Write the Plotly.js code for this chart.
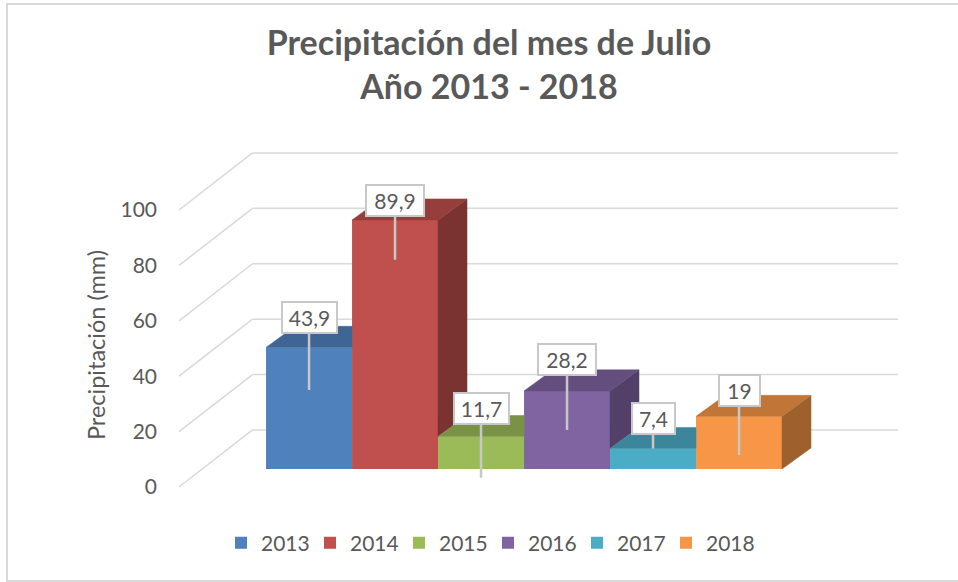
<!DOCTYPE html>
<html>
<head>
<meta charset="utf-8">
<script src="https://cdn.plot.ly/plotly-3.0.1.min.js"></script>
<style>
  html, body { margin: 0; padding: 0; background: #ffffff; }
  #wrap { position: relative; width: 958px; height: 582px; overflow: hidden; }
  #chart { width: 958px; height: 582px; }
  #frame { position: absolute; left: 6px; top: 3px; width: 960px; height: 579px;
           box-sizing: border-box; border: 2px solid #d9d9d9; pointer-events: none; }
</style>
</head>
<body>
<div id="wrap"><div id="chart"></div><div id="frame"></div></div>
<script>
// ---- data ----
const years = ['2013', '2014', '2015', '2016', '2017', '2018'];
const precip = [43.9, 89.9, 11.7, 28.2, 7.4, 19];
const tickValues = [0, 20, 40, 60, 80, 100];
const tickLabels = ['0', '20', '40', '60', '80', '100'];

// ---- style ----
const colors = ['#4F81BD', '#C0504D', '#9BBB59', '#8064A2', '#4BACC6', '#F79646'];
const TEXT = '#595959';
const GRID = '#d9d9d9';
const FONT = 'Lato, "Open Sans", sans-serif';
const DX = 0.337;   // bar depth offset (x units)
const DY = 7.6;     // bar depth offset (y units)
const FRONT_OFF = -6.5, BACK_OFF = 14.1;   // gridline front/back offsets
const GX_FRONT = -1.512, GX_BACK = -0.657, GX_END = 6.849;
const boxOffset = [10.8, 7.2, 10, 11.2, 11, 9.5];
const tipOffset = [-15.4, -14.4, -14.9, -14.1, 0, -13.9];
const boxWidth = [49, 52, 49, 52, 37, 35];

function shade(hex, f) {
  const n = parseInt(hex.slice(1), 16);
  const r = Math.round(((n >> 16) & 255) * f), g = Math.round(((n >> 8) & 255) * f), b = Math.round((n & 255) * f);
  return 'rgb(' + r + ',' + g + ',' + b + ')';
}

const traces = [];
years.forEach((yr, i) => {
  traces.push({
    type: 'bar', name: yr, x: [i], y: [precip[i]], width: 1,
    marker: { color: colors[i], line: { width: 0 } },
    hoverinfo: 'skip'
  });
});

years.forEach((yr, i) => {
  const h = precip[i];
  const L = i - 0.5, R = i + 0.5;
  const next = i < precip.length - 1 ? precip[i + 1] : null;
  // side face (visible part only)
  if (next === null || next < h) {
    const b = next === null ? 0 : next;
    traces.push({
      type: 'scatter', mode: 'lines', fill: 'toself', showlegend: false, hoverinfo: 'skip',
      x: [R, R, R + DX, R + DX, R], y: [b, h, h + DY, b + DY, b],
      fillcolor: shade(colors[i], 0.64), line: { color: shade(colors[i], 0.64), width: 0.5 }
    });
  }
  // top face
  let tx, ty;
  if (next !== null && next > h) {
    tx = [L, R, R, L + DX, L]; ty = [h, h, h + DY, h + DY, h];
  } else {
    tx = [L, R, R + DX, L + DX, L]; ty = [h, h, h + DY, h + DY, h];
  }
  traces.push({
    type: 'scatter', mode: 'lines', fill: 'toself', showlegend: false, hoverinfo: 'skip',
    x: tx, y: ty,
    fillcolor: shade(colors[i], 0.78), line: { color: shade(colors[i], 0.78), width: 0.5 }
  });
});

const shapes = [];
tickValues.forEach(v => {
  shapes.push({ type: 'line', layer: 'below', xref: 'x', yref: 'y',
    x0: GX_FRONT, y0: v + FRONT_OFF, x1: GX_BACK, y1: v + BACK_OFF,
    line: { color: GRID, width: 1.5 } });
  shapes.push({ type: 'line', layer: 'below', xref: 'x', yref: 'y',
    x0: GX_BACK, y0: v + BACK_OFF, x1: GX_END, y1: v + BACK_OFF,
    line: { color: GRID, width: 1.5 } });
});

const annotations = precip.map((v, i) => ({
  x: i, y: v + tipOffset[i], xref: 'x', yref: 'y',
  ax: i, ay: v + boxOffset[i], axref: 'x', ayref: 'y',
  text: String(v).replace('.', ','),
  showarrow: true, arrowhead: 0, arrowwidth: 2.5, arrowcolor: '#c8c8c8',
  bgcolor: '#ffffff', bordercolor: '#c8c8c8', borderwidth: 2, borderpad: 2,
  width: boxWidth[i], height: 25, valign: 'middle',
  font: { family: FONT, size: 21, color: TEXT }
}));

const layout = {
  width: 958, height: 582,
  paper_bgcolor: '#ffffff', plot_bgcolor: '#ffffff',
  margin: { l: 168, r: 53, t: 140, b: 32 },
  barmode: 'overlay',
  showlegend: true,
  title: {
    text: '<b>Precipitación del mes de Julio<br>Año 2013 - 2018</b>',
    x: 0.5104, xref: 'container', xanchor: 'center',
    y: 0.905, yref: 'container', yanchor: 'middle',
    font: { family: FONT, size: 34, color: TEXT }
  },
  xaxis: { range: [-1.640, 6.930], visible: false, fixedrange: true },
  yaxis: {
    range: [-29.24, 118.77], showgrid: false, zeroline: false, showline: false,
    tickmode: 'array', tickvals: tickValues.map(v => v + FRONT_OFF), ticktext: tickLabels,
    ticks: '', ticklabelstandoff: 10,
    tickfont: { family: FONT, size: 21, color: TEXT },
    title: { text: 'Precipitación (mm)', standoff: 8, font: { family: FONT, size: 23.5, color: TEXT } },
    fixedrange: true
  },
  legend: {
    orientation: 'h', x: 0.4342, xanchor: 'center', y: 0.017, yanchor: 'middle',
    font: { family: FONT, size: 21, color: TEXT },
    entrywidth: 44, entrywidthmode: 'pixels',
    bgcolor: 'rgba(0,0,0,0)'
  },
  shapes: shapes,
  annotations: annotations,
  hovermode: false
};

Plotly.newPlot('chart', traces, layout, { staticPlot: true, displayModeBar: false });
</script>
</body>
</html>
